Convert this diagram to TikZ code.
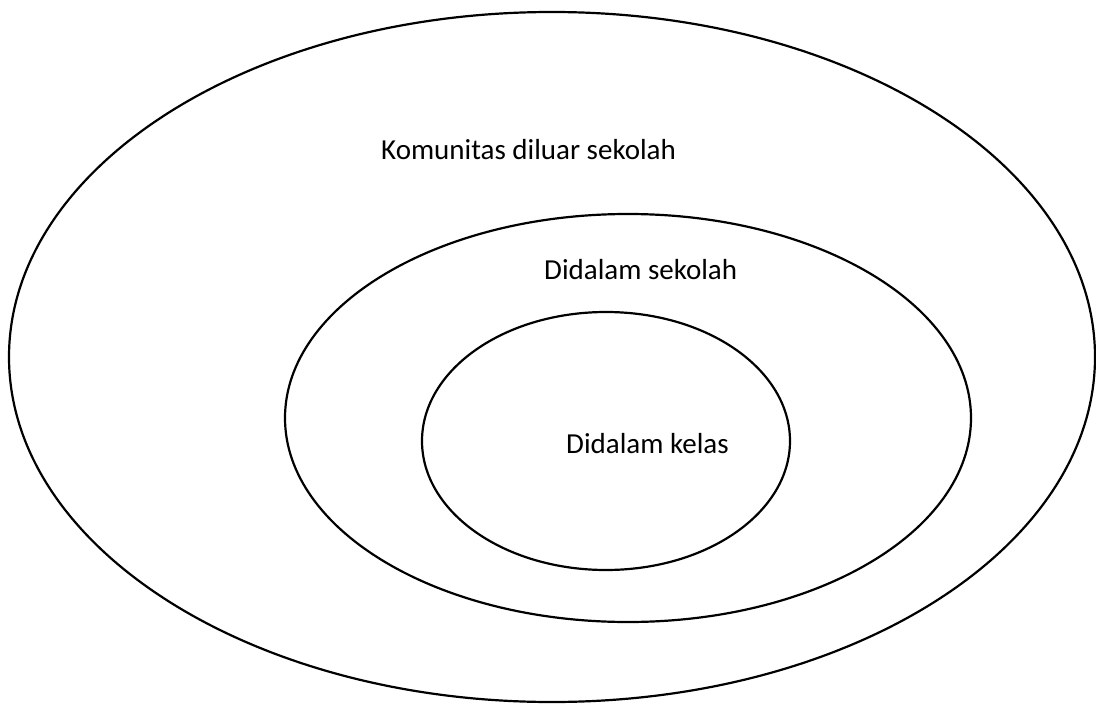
\documentclass[tikz,border=0pt]{standalone}
\usepackage{fontspec}
\setmainfont{Carlito}
\begin{document}
\begin{tikzpicture}[x=1pt,y=-1pt,
  ring/.style={draw=black,line width=2.2pt},
  lbl/.style={anchor=base west,inner sep=0pt,font=\fontsize{29}{34}\selectfont}]
\useasboundingbox (0,0) rectangle (1096,704);
% nested circles of the school environment
\draw[ring] (552,357) ellipse [x radius=543, y radius=345];
\draw[ring] (628,418) ellipse [x radius=343, y radius=204];
\draw[ring] (606,441) ellipse [x radius=184, y radius=129];
% labels
\node[lbl] (outer) at (381,159) {Komunitas diluar sekolah};
\node[lbl] (middle) at (544,279) {Didalam sekolah};
\node[lbl] (inner) at (566,453) {Didalam kelas};
\end{tikzpicture}
\end{document}
